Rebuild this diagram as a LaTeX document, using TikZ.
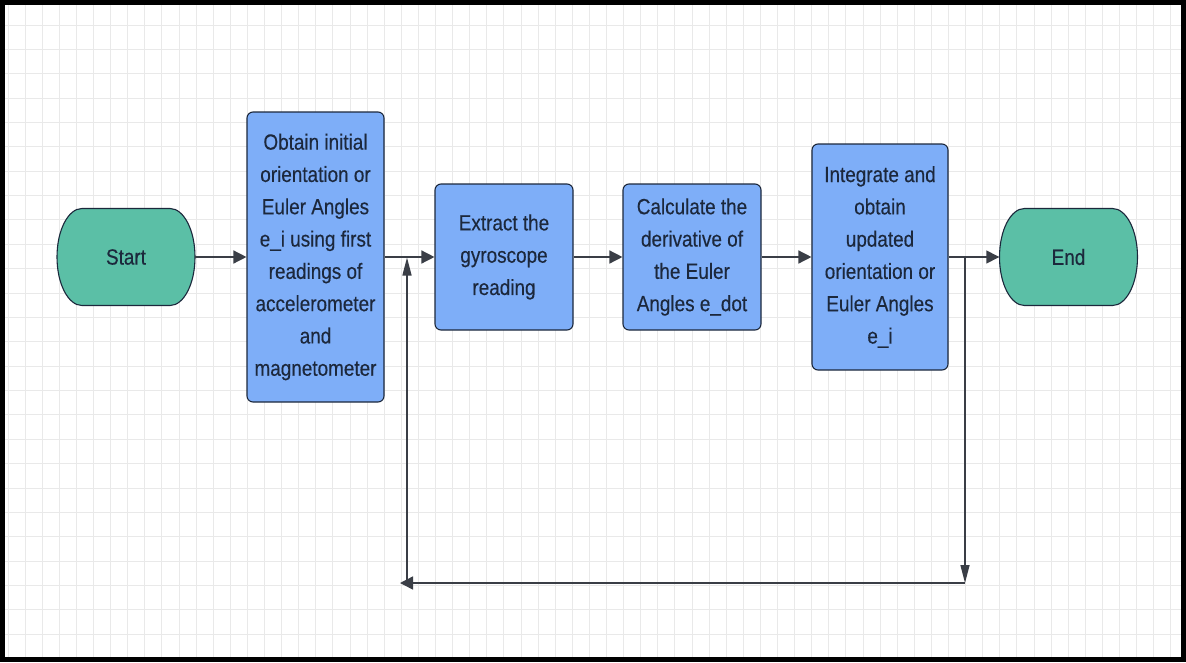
\documentclass[tikz,border=0pt]{standalone}
\usepackage{fontspec}
\setmainfont[FakeStretch=0.86,FakeBold=0.3]{Liberation Sans}
\usetikzlibrary{arrows.meta}

\definecolor{termgreen}{RGB}{91,191,166}
\definecolor{stepblue}{RGB}{126,174,248}
\definecolor{inkblue}{RGB}{28,40,60}
\definecolor{edgegray}{RGB}{58,62,70}
\definecolor{gridgray}{RGB}{233,233,233}

\tikzset{
  txt/.style={text=inkblue, align=center, inner sep=0pt, font=\fontsize{22}{32.3}\selectfont},
  box/.style={txt, draw=inkblue, line width=1.1pt, fill=stepblue, rounded corners=6pt},
  term/.style={txt, minimum width=138pt, minimum height=97pt},
  harrow/.style={edgegray, line width=1.4pt, -{Triangle[length=13pt,width=13pt]}},
  varrow/.style={edgegray, line width=1.4pt, -{Triangle[length=18pt,width=9pt]}}
}

% green start / end shape, centre x and y
\newcommand{\stadium}[2]{%
  \filldraw[draw=inkblue, line width=1.1pt, fill=termgreen]
    (#1-44,#2-48.5) -- (#1+44,#2-48.5)
    arc[start angle=90, end angle=-90, x radius=25pt, y radius=48.5pt]
    -- (#1-44,#2+48.5)
    arc[start angle=270, end angle=90, x radius=25pt, y radius=48.5pt] -- cycle;}

\begin{document}
\begin{tikzpicture}[x=1pt, y=-1pt]
    \useasboundingbox (0,0) rectangle (1186,662);
    \fill[white] (0,0) rectangle (1186,662);
    % Grid
    \foreach \i in {0,...,68}
        \draw[gridgray, line width=1pt] ({8+17.1*\i},0) -- ({8+17.1*\i},662);
    \foreach \j in {1,...,26}
        \draw[gridgray, line width=1pt] (0,{0.63+24.37*\j}) -- (1186,{0.63+24.37*\j});
    % Start and end
    \stadium{126}{257}
    \node[term] (start) at (126,257) {Start};
    \stadium{1068.5}{257}
    \node[term] (finish) at (1068.5,257) {End};
    % Steps
    \node[box, minimum width=137pt, minimum height=290pt] (obtain) at (315.5,257)
        {Obtain initial\\orientation or\\Euler Angles\\e\_i using first\\readings of\\accelerometer\\and\\magnetometer};
    \node[box, minimum width=138pt, minimum height=146pt] (extract) at (504,257)
        {Extract the\\gyroscope\\reading};
    \node[box, minimum width=138pt, minimum height=146pt] (derive) at (692,257)
        {Calculate the\\derivative of\\the Euler\\Angles e\_dot};
    \node[box, minimum width=136pt, minimum height=226pt] (integrate) at (880,257)
        {Integrate and\\obtain\\updated\\orientation or\\Euler Angles\\e\_i};
    % Main flow
    \draw[harrow] (start) -- (obtain);
    \draw[harrow] (obtain) -- (extract);
    \draw[harrow] (extract) -- (derive);
    \draw[harrow] (derive) -- (integrate);
    \draw[harrow] (integrate) -- (finish);
    % Feedback loop
    \coordinate (drop) at (965,257);
    \coordinate (corner) at (965,583);
    \coordinate (back) at (400,583);
    \coordinate (rise) at (407,583);
    \coordinate (join) at (407,257.5);
    \draw[varrow] (drop) -- (corner);
    \draw[harrow] (corner) -- (back);
    \draw[varrow] (rise) -- (join);
    % Frame
    \draw[black, line width=5pt] (2.5,2.5) rectangle (1183,659);
\end{tikzpicture}
\end{document}
